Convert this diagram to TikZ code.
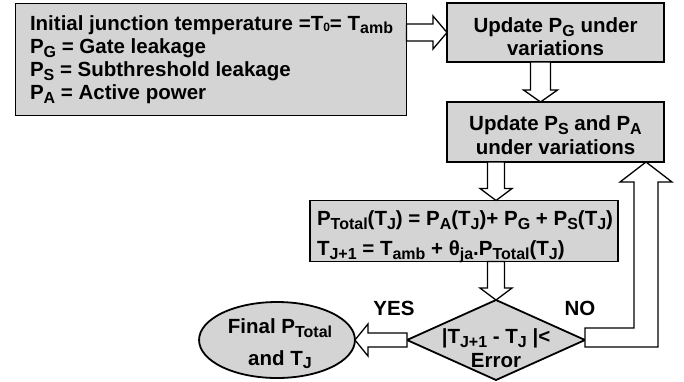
\documentclass[tikz,border=0pt]{standalone}
\usepackage{fontspec}
\setmainfont{Liberation Sans}
\usetikzlibrary{shapes.geometric,calc}
\definecolor{boxgray}{RGB}{212,212,212}
\newcommand{\sbs}[1]{\raisebox{-3.8pt}{\fontsize{16}{16}\selectfont #1}}
\newcommand{\sbz}[1]{\raisebox{-1pt}{\fontsize{12}{12}\selectfont #1}}
\newcommand{\ctext}[3]{\raisebox{#1}[0pt][0pt]{\begin{tabular}{@{}#2@{}}#3\end{tabular}}}
\newcommand{\hollowarrow}[5]{%
  \draw[arrowline] ($(#1)!#3!90:(#2)$) -- ($($(#2)!#5!(#1)$)!#3!90:(#2)$) -- ($($(#2)!#5!(#1)$)!#4!90:(#2)$) -- (#2) -- ($($(#2)!#5!(#1)$)!#4!-90:(#2)$) -- ($($(#2)!#5!(#1)$)!#3!-90:(#2)$) -- ($(#1)!#3!-90:(#2)$) -- cycle;}
\begin{document}
\begin{tikzpicture}[x=1pt,y=-1pt,
  font=\fontsize{20.5}{23.3}\selectfont\bfseries,
  box/.style={draw, line width=1.8pt, fill=boxgray, inner sep=0pt, outer sep=0pt, align=center},
  arrowline/.style={draw, line width=1.3pt, fill=white, line join=miter},
  lbl/.style={inner sep=0pt}]
\useasboundingbox (0,0) rectangle (684,381);
% boxes
\node[box, minimum width=391pt, minimum height=112pt] (b1) at (211,59.5)
  {\makebox[362pt][l]{\ctext{-6pt}{l}{Initial junction temperature =T\sbz{0}= T\sbs{amb}\\P\sbs{G} = Gate leakage\\P\sbs{S} = Subthreshold leakage\\P\sbs{A} = Active power}}};
\node[box, minimum width=217pt, minimum height=59pt] (b2) at (555.5,32.5)
  {\ctext{-12pt}{c}{Update P\sbs{G} under\\variations}};
\node[box, minimum width=217pt, minimum height=60pt] (b3) at (555.5,132)
  {\ctext{-11pt}{c}{Update P\sbs{S} and P\sbs{A}\\under variations}};
\node[box, minimum width=308pt, minimum height=61pt] (form) at (464,231)
  {\makebox[294pt][l]{\ctext{-10pt}{l}{P\sbs{Total}(T\sbs{J}) = P\sbs{A}(T\sbs{J})+ P\sbs{G} + P\sbs{S}(T\sbs{J})\\[6.7pt]T\sbs{J+1} = T\sbs{amb} + θ\sbs{ja}.P\sbs{Total}(T\sbs{J})}}};
\node[box, diamond, aspect=2.225, minimum width=178pt, minimum height=80pt] (dia) at (496,340)
  {\ctext{-16pt}{c}{|T\sbs{J+1} - T\sbs{J} |<\\Error}};
\node[box, ellipse, minimum width=140pt, minimum height=76pt] (ell) at (277,340)
  {\hspace{6pt}\ctext{-10pt}{c}{Final P\sbs{Total}\\[8pt]and T\sbs{J}}};
% labels
\node[lbl] (yes) at (394,308) {YES};
\node[lbl] (no) at (580,308) {NO};
% arrows
\coordinate (a1s) at (b1.east |- b2.west);
\hollowarrow{a1s}{b2.west}{8.5pt}{16.5pt}{14pt}
\coordinate (a2s) at ($(b2.south)+(-15,0)$);
\coordinate (a2e) at ($(b3.north)+(-15,0)$);
\hollowarrow{a2s}{a2e}{10pt}{17pt}{12pt}
\coordinate (a3s) at (dia.north |- b3.south);
\coordinate (a3e) at (dia.north |- form.north);
\hollowarrow{a3s}{a3e}{8.5pt}{16pt}{12pt}
\coordinate (a4s) at (dia.north |- form.south);
\hollowarrow{a4s}{dia.north}{8.5pt}{16pt}{12pt}
\hollowarrow{dia.west}{ell.east}{7pt}{16pt}{13pt}
% NO loop
\coordinate (nt) at ($(b3.south east)+(-18,0)$);
\draw[arrowline] ($(dia.east)+(0,7)$) -- ($(nt|-dia.east)+(12,7)$) -- ($(nt)+(12,20)$) -- ($(nt)+(26,20)$) -- (nt) -- ($(nt)+(-26,20)$) -- ($(nt)+(-12,20)$) -- ($(nt|-dia.east)+(-12,-12)$) -- ($(dia.east)+(0,-12)$) -- cycle;
\end{tikzpicture}
\end{document}
